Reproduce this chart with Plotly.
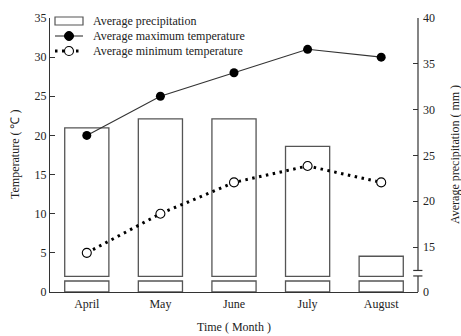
import plotly.graph_objects as go

# Monthly climate data
months = ["April", "May", "June", "July", "August"]
precip_mm = [28, 29, 29, 26, 14]          # average precipitation (mm)
t_max = [20, 25, 28, 31, 30]              # average maximum temperature (°C)
t_min = [5, 10, 14.0, 16.1, 14.0]         # average minimum temperature (°C)

# Broken precipitation axis: visible range starts just above 10 mm
P_LOW = 10.1        # bottom of precipitation axis (labelled "0")
P_BASE = 11.8       # where the upper bar segment starts
P_STUB = 1.2        # height of the stub segment below the break
BREAK_LO, BREAK_HI = 11.85, 12.45

FONT = "Liberation Serif, Times New Roman, serif"
AX = "#333333"
TXT = "#222222"

fig = go.Figure()

# stub segments below the axis break (precipitation axis = "y", right side)
fig.add_trace(go.Bar(
    x=months, y=[P_STUB] * len(months), base=P_LOW, yaxis="y",
    width=0.6, marker=dict(color="white", line=dict(color="#555555", width=1.3)),
    showlegend=False, hoverinfo="skip"))

# precipitation bars above the break
fig.add_trace(go.Bar(
    x=months, y=[p - P_BASE for p in precip_mm], base=P_BASE, yaxis="y",
    width=0.6, marker=dict(color="white", line=dict(color="#555555", width=1.3)),
    name="Average precipitation", showlegend=False))

# temperature lines on the overlaying left axis ("y2"), drawn above the bars
fig.add_trace(go.Scatter(
    x=months, y=t_max, mode="lines+markers", yaxis="y2",
    line=dict(color="#333333", width=1.1),
    marker=dict(size=9, color="black"),
    name="Average maximum temperature", showlegend=False))

fig.add_trace(go.Scatter(
    x=months, y=t_min, mode="lines+markers", yaxis="y2",
    line=dict(color="black", width=3, dash="2.5px,4.5px"),
    marker=dict(size=9, color="white", line=dict(color="black", width=1.1)),
    name="Average minimum temperature", showlegend=False))

shapes = []
# right axis line with a break
shapes.append(dict(type="line", xref="paper", yref="y", x0=1, x1=1,
                   y0=P_LOW, y1=BREAK_LO, line=dict(color=AX, width=1.2)))
shapes.append(dict(type="line", xref="paper", yref="y", x0=1, x1=1,
                   y0=BREAK_HI, y1=40, line=dict(color=AX, width=1.2)))
for yb in (BREAK_LO, BREAK_HI):
    shapes.append(dict(type="line", xref="paper", yref="y", x0=0.987, x1=1.012,
                       y0=yb, y1=yb, line=dict(color=AX, width=1.2)))

# legend glyphs
lx0, lx1 = 5 / 368, 33 / 368
lxc = 19 / 368
rows = [(292 - 21) / 274, (292 - 36) / 274, (292 - 51) / 274]
shapes.append(dict(type="rect", xref="paper", yref="paper",
                   x0=lx0, x1=lx1, y0=(292 - 25) / 274, y1=(292 - 17) / 274,
                   line=dict(color="#555555", width=1.2), fillcolor="white"))
shapes.append(dict(type="line", xref="paper", yref="paper",
                   x0=lx0, x1=lx1, y0=rows[1], y1=rows[1],
                   line=dict(color="#333333", width=1.1)))
shapes.append(dict(type="circle", xref="paper", yref="paper",
                   xsizemode="pixel", ysizemode="pixel", xanchor=lxc, yanchor=rows[1],
                   x0=-4.5, x1=4.5, y0=-4.5, y1=4.5,
                   fillcolor="black", line=dict(color="black", width=1)))
shapes.append(dict(type="line", xref="paper", yref="paper",
                   x0=lx0, x1=lx1, y0=rows[2], y1=rows[2],
                   line=dict(color="black", width=3, dash="2.5px,4.5px")))
shapes.append(dict(type="circle", xref="paper", yref="paper",
                   xsizemode="pixel", ysizemode="pixel", xanchor=lxc, yanchor=rows[2],
                   x0=-4.5, x1=4.5, y0=-4.5, y1=4.5,
                   fillcolor="white", line=dict(color="black", width=1.1)))

legend_labels = ["Average precipitation", "Average maximum temperature",
                 "Average minimum temperature"]
annotations = []
for lab, yy in zip(legend_labels, rows):
    annotations.append(dict(text=lab, xref="paper", yref="paper", x=41 / 368, y=yy,
                            xanchor="left", yanchor="middle", showarrow=False,
                            font=dict(family=FONT, size=12, color=TXT)))

annotations.append(dict(text="Temperature ( ℃ )", xref="paper", yref="paper",
                        x=-35 / 368, y=0.5, textangle=-90, showarrow=False,
                        xanchor="center", yanchor="middle",
                        font=dict(family=FONT, size=12, color=TXT)))
annotations.append(dict(text="Average precipitation ( mm )", xref="paper", yref="paper",
                        x=1 + 37 / 368, y=0.5, textangle=-90, showarrow=False,
                        xanchor="center", yanchor="middle",
                        font=dict(family=FONT, size=12, color=TXT)))
annotations.append(dict(text="Time ( Month )", xref="paper", yref="paper",
                        x=0.5, y=(292 - 327) / 274, showarrow=False,
                        xanchor="center", yanchor="middle",
                        font=dict(family=FONT, size=12, color=TXT)))

fig.update_layout(
    width=461, height=336,
    margin=dict(l=50, r=43, t=18, b=44),
    paper_bgcolor="white", plot_bgcolor="white",
    font=dict(family=FONT, size=12, color=TXT),
    barmode="overlay",
    showlegend=False,
    xaxis=dict(type="category", range=[-0.5, 4.5], showline=True, linecolor=AX,
               linewidth=1.2, ticks="", showgrid=False, zeroline=False,
               tickfont=dict(family=FONT, size=12, color=TXT)),
    yaxis=dict(range=[P_LOW, 40], side="right",
               tickvals=[P_LOW, 15, 20, 25, 30, 35, 40],
               ticktext=["0", "15", "20", "25", "30", "35", "40"],
               showline=False, ticks="inside", ticklen=5, tickcolor=AX,
               ticklabelstandoff=4,
               showgrid=False, zeroline=False,
               tickfont=dict(family=FONT, size=12, color=TXT)),
    yaxis2=dict(range=[0, 35], overlaying="y", side="left",
                tickvals=[0, 5, 10, 15, 20, 25, 30, 35],
                showline=True, linecolor=AX, linewidth=1.2,
                ticks="inside", ticklen=5, tickcolor=AX, showgrid=False, zeroline=False,
                tickfont=dict(family=FONT, size=12, color=TXT)),
    shapes=shapes,
    annotations=annotations,
)

fig.write_html("out.html")
